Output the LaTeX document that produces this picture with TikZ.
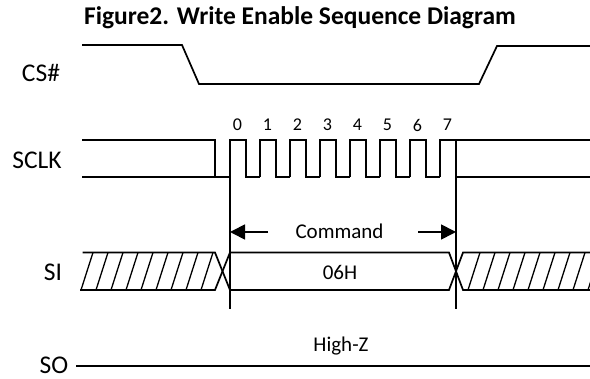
\documentclass[tikz,border=0pt]{standalone}
\usepackage{fontspec}
\setmainfont{Carlito}
\usetikzlibrary{arrows.meta}

\begin{document}
\begin{tikzpicture}[x=1pt,y=-1pt,line width=1.7pt,line join=miter,
		sig/.style={font=\fontsize{25.5}{28}\selectfont},
		txt/.style={font=\fontsize{21}{23}\selectfont},
		bit/.style={font=\fontsize{18}{20}\selectfont},
		refline/.style={line width=1.7pt},
		cmdarrow/.style={-{Triangle[length=15pt,width=15pt]}}]
	\useasboundingbox (0,0) rectangle (590,379);
	% title
	\node[font=\bfseries\fontsize{25.5}{28}\selectfont] (title) at (300,18) {Figure2. Write Enable Sequence Diagram};
	% signal names
	\node[sig] (cs) at (41,73) {CS\#};
	\node[sig] (sclk) at (37,160) {SCLK};
	\node[sig] (si) at (53,272) {SI};
	\node[sig,inner sep=1pt] (so) at (54,365) {SO};
	% CS#
	\draw (82,45) -- (182,45) -- (199,84) -- (479,84) -- (497,46) -- (590,46);
	% SCLK
	\draw (82,140) -- (215,140) -- (215,177);
	\draw (82,177) -- (230,177);
	\foreach \i in {0,...,7}{
		\draw (230+30*\i,177) -- (230+30*\i,140) -- (245.7+30*\i,140) -- (245.7+30*\i,177) -- (260+30*\i,177);
		\node[bit] (bit\i) at (237.5+30*\i,125) {\i};
	}
	\draw (456,140) -- (590,140);
	\draw (456,177) -- (590,177);
	% reference lines
	\coordinate (ra) at (230,140);
	\coordinate (rb) at (230,309);
	\coordinate (rc) at (456,140);
	\coordinate (rd) at (456,309);
	\draw[refline] (ra) -- (rb);
	\draw[refline] (rc) -- (rd);
	% command arrows
	\coordinate (la) at (268,232);
	\coordinate (lb) at (230,232);
	\coordinate (lc) at (418,232);
	\coordinate (ld) at (456,232);
	\draw[cmdarrow] (la) -- (lb);
	\draw[cmdarrow] (lc) -- (ld);
	\node[txt] (cmd) at (339.5,231) {Command};
	% SI
	\draw (82.7,252.5) -- (215,252.5) -- (230,290) -- (449,290) -- (463,252.5) -- (590,252.5);
	\draw (80,290) -- (215,290) -- (230,252.5) -- (449,252.5) -- (463,290) -- (590,290);
	\foreach \x in {81,96,...,201}
		\draw[line width=1.3pt] (\x,290) -- ++(12,-37.5);
	\foreach \x in {468,483,...,588}
		\draw[line width=1.3pt] (\x,290) -- ++(12,-37.5);
	\node[txt] (data) at (340,272) {06H};
	% SO
	\coordinate (soend) at (590,366);
	\draw (so.east) ++(6,1) -- (soend);
	\node[txt] (hiz) at (341,346) {High-Z};
\end{tikzpicture}
\end{document}
